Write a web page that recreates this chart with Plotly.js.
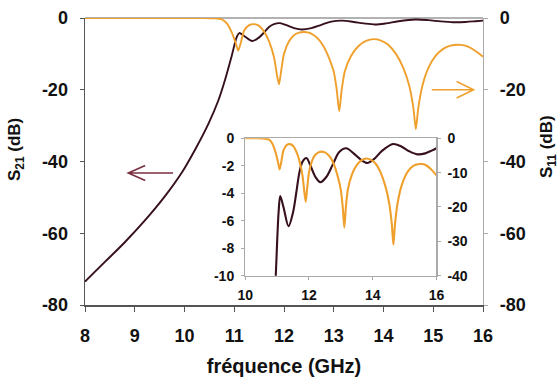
<!DOCTYPE html>
<html>
<head>
<meta charset="utf-8">
<script src="https://cdn.plot.ly/plotly-3.0.1.min.js"></script>
<style>html,body{margin:0;padding:0;background:#fff;}#chart{width:558px;height:378px;}</style>
</head>
<body>
<div id="chart"></div>
<script>
// Frequencies (GHz) and S21 (dB)
var freqS21 = [8, 8.4, 8.8, 9.2, 9.6, 9.95, 10.22, 10.48, 10.68, 10.82, 10.95, 11.05, 11.1, 11.2, 11.36, 11.5, 11.6, 11.7, 11.8, 11.92, 12.05, 12.2, 12.36, 12.55, 12.75, 12.95, 13.17, 13.4, 13.6, 13.83, 14.05, 14.3, 14.64, 14.9, 15.15, 15.4, 15.65, 15.85, 16];
var s21 = [-73.5, -68, -62.5, -56.5, -49.8, -43, -36.5, -29.5, -23, -17, -10.5, -5.3, -4.2, -5.0, -6.4, -5.4, -4.0, -2.5, -1.7, -1.44, -2.0, -2.8, -3.2, -2.8, -1.9, -1.0, -0.73, -1.1, -1.5, -1.8, -1.5, -0.9, -0.42, -0.6, -0.95, -1.17, -1.1, -0.9, -0.73];

// Frequencies (GHz) and S11 (dB)
var freqS11 = [8, 9, 10, 10.4, 10.6, 10.75, 10.85, 10.95, 11.03, 11.08, 11.13, 11.2, 11.3, 11.4, 11.5, 11.6, 11.7, 11.8, 11.86, 11.9, 11.94, 12.0, 12.1, 12.2, 12.3, 12.4, 12.5, 12.6, 12.7, 12.8, 12.9, 13.0, 13.06, 13.11, 13.16, 13.22, 13.35, 13.5, 13.65, 13.8, 13.95, 14.1, 14.25, 14.4, 14.52, 14.6, 14.65, 14.7, 14.78, 14.9, 15.05, 15.2, 15.35, 15.55, 15.7, 15.85, 16];
var s11 = [0, 0, 0, 0, -0.1, -0.4, -1.5, -4, -7, -9.1, -7, -3.5, -2, -1.7, -2.2, -3.8, -6.5, -11, -16, -18.5, -15, -10, -6.5, -4.8, -4.1, -3.9, -4.1, -4.8, -6, -8, -11, -15, -20, -26, -20, -15, -10.5, -7.8, -6.4, -5.9, -6.3, -7.5, -10, -14, -19, -25, -31, -25, -19, -14, -10.5, -8.6, -7.7, -7.5, -8, -9.2, -10.8];

// Axis ticks
var mainXTicks = [8, 9, 10, 11, 12, 13, 14, 15, 16];
var mainYTicks = [0, -20, -40, -60, -80];
var insetXTicks = [10, 12, 14, 16];
var insetS21Ticks = [0, -2, -4, -6, -8, -10];
var insetS11Ticks = [0, -10, -20, -30, -40];

var colS21 = '#36101c';
var colS11 = '#efa02c';
var FONT = 'Liberation Sans, Arial, sans-serif';

var traces = [
  {x: freqS11, y: s11, xaxis: 'x', yaxis: 'y2', mode: 'lines', line: {color: colS11, width: 1.9, shape: 'spline', smoothing: 0.6}},
  {x: freqS21, y: s21, xaxis: 'x', yaxis: 'y', mode: 'lines', line: {color: colS21, width: 1.9, shape: 'spline', smoothing: 0.9}},
  {x: freqS11, y: s11, xaxis: 'x2', yaxis: 'y4', mode: 'lines', line: {color: colS11, width: 2.1, shape: 'spline', smoothing: 0.6}},
  {x: freqS21, y: s21, xaxis: 'x2', yaxis: 'y3', mode: 'lines', line: {color: colS21, width: 2.1, shape: 'spline', smoothing: 0.9}}
];

var tfMain = {family: FONT, size: 18, color: '#111', weight: 700};
var tfInset = {family: FONT, size: 14, color: '#111', weight: 700};
var titleFont = {family: FONT, size: 17, color: '#111', weight: 700};

var layout = {
  width: 558, height: 378,
  margin: {l: 85, r: 75, t: 18, b: 73},
  paper_bgcolor: '#fff', plot_bgcolor: '#fff',
  showlegend: false,
  font: {family: FONT},
  xaxis: {
    domain: [0, 1], range: [8, 16], tickvals: mainXTicks, ticktext: mainXTicks.map(String),
    showgrid: false, zeroline: false, showline: true, linecolor: '#555', linewidth: 1.5,
    ticks: 'outside', ticklen: 5, tickcolor: '#555', tickfont: tfMain, ticklabelstandoff: 9,
    title: {text: 'fréquence (GHz)', font: {family: FONT, size: 20, color: '#111', weight: 700}, standoff: 14}
  },
  yaxis: {
    range: [-80, 0], tickvals: mainYTicks, ticktext: mainYTicks.map(String),
    showgrid: false, zeroline: false, showline: true, linecolor: '#555', linewidth: 1.5,
    ticks: 'outside', ticklen: 4, tickcolor: '#555', tickfont: tfMain, ticklabelstandoff: 8
  },
  yaxis2: {
    overlaying: 'y', side: 'right', anchor: 'x', range: [-80, 0], tickvals: mainYTicks, ticktext: mainYTicks.map(String),
    showgrid: false, zeroline: false, showline: true, linecolor: '#aaa', linewidth: 1.2,
    ticks: 'outside', ticklen: 4, tickcolor: '#aaa', tickfont: tfMain, ticklabelstandoff: 8
  },
  xaxis2: {
    domain: [0.4025, 0.883], anchor: 'y3', range: [10, 16], tickvals: insetXTicks, ticktext: insetXTicks.map(String),
    showgrid: false, zeroline: false, showline: true, mirror: true, linecolor: '#aaa', linewidth: 1.2,
    ticks: 'outside', ticklen: 3, tickcolor: '#aaa', tickfont: tfInset, ticklabelstandoff: 3
  },
  yaxis3: {
    domain: [0.102, 0.581], anchor: 'x2', range: [-10, 0], tickvals: insetS21Ticks, ticktext: insetS21Ticks.map(String),
    showgrid: false, zeroline: false, showline: true, linecolor: '#aaa', linewidth: 1.2,
    ticks: 'outside', ticklen: 3, tickcolor: '#aaa', tickfont: tfInset, ticklabelstandoff: 4
  },
  yaxis4: {
    overlaying: 'y3', side: 'right', anchor: 'x2', range: [-40, 0], tickvals: insetS11Ticks, ticktext: insetS11Ticks.map(String),
    showgrid: false, zeroline: false, showline: true, linecolor: '#aaa', linewidth: 1.2,
    ticks: 'outside', ticklen: 3, tickcolor: '#aaa', tickfont: tfInset, ticklabelstandoff: 4
  },
  annotations: [
    {text: 'S<sub>21</sub> (dB)', xref: 'paper', yref: 'paper', x: (16 - 85) / 398, y: (305 - 150) / 287, textangle: -90, showarrow: false, font: titleFont, xanchor: 'center', yanchor: 'middle'},
    {text: 'S<sub>11</sub> (dB)', xref: 'paper', yref: 'paper', x: (548 - 85) / 398, y: (305 - 147) / 287, textangle: -90, showarrow: false, font: titleFont, xanchor: 'center', yanchor: 'middle'}
  ],
  shapes: [
    {type: 'line', xref: 'paper', yref: 'paper', x0: 0, x1: 1, y0: 1, y1: 1, line: {color: '#999', width: 1.5}, layer: 'below'},
    // left arrow (S21 axis)
    {type: 'path', xref: 'x', yref: 'y', path: 'M 9.77 -43.2 L 8.87 -43.2 M 9.21 -41.1 L 8.87 -43.2 L 9.21 -45.3', line: {color: '#7a3040', width: 1.6}},
    // right arrow (S11 axis)
    {type: 'path', xref: 'x', yref: 'y2', path: 'M 14.97 -20 L 15.81 -20 M 15.47 -17.7 L 15.81 -20 L 15.47 -22.3', line: {color: colS11, width: 1.6}}
  ]
};

Plotly.newPlot('chart', traces, layout, {staticPlot: true, displayModeBar: false});
</script>
</body>
</html>
